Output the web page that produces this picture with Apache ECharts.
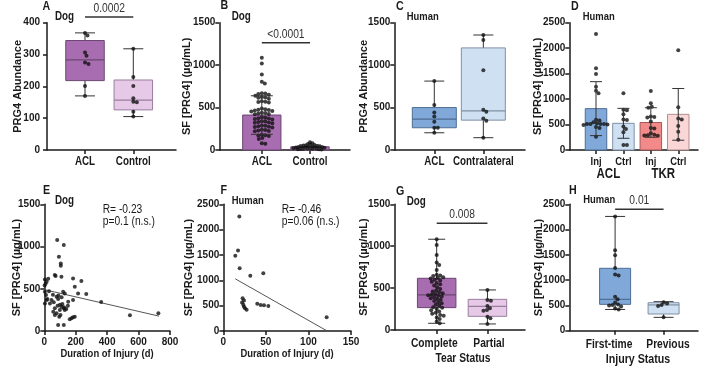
<!DOCTYPE html>
<html>
<head>
<meta charset="utf-8">
<script src="https://cdn.jsdelivr.net/npm/echarts@6/dist/echarts.min.js"></script>
<style>html,body{margin:0;background:#fff}#chart{width:702px;height:366px}</style>
</head>
<body>
<div id="chart"></div>
<script>
// ---- data ----
// A: dog PRG4 abundance
const labelsA = ["ACL", "Control"];
const aclA = [368, 360, 306, 296, 275, 270, 201, 170];
const ctrlA = [318, 229, 201, 163, 152, 150, 120, 105];
const boxA = [[170, 218, 283, 344, 368], [105, 126, 157, 220, 318]]; // min q1 med q3 max

// B: dog SF [PRG4]
const labelsB = ["ACL", "Control"];
const aclB = [1086, 1019, 890, 804, 784, 670, 665, 660, 650, 640, 625, 620, 615, 605, 575, 570, 565, 560,
    490, 480, 475, 470, 465, 460, 455, 440, 435, 430, 425, 420, 385, 380, 375, 370, 365, 360, 340, 335, 330,
    325, 320, 315, 290, 285, 280, 275, 270, 265, 240, 235, 230, 225, 220, 180, 175, 170, 165, 140, 130, 80, 75];
const ctrlB = [92, 80, 72, 65, 60, 56, 52, 48, 45, 42, 40, 38, 36, 34, 32, 30, 28, 26, 24, 22, 20, 18, 16, 14, 12, 10, 8, 5];
const meanB = [412, 38];
const sdB = [227, 22];

// C: human PRG4 abundance
const labelsC = ["ACL", "Contralateral"];
const aclC = [812, 531, 441, 394, 332, 262, 262, 203];
const contraC = [1355, 1295, 940, 475, 450, 370, 345, 145];
const boxC = [[203, 262, 363, 500, 812], [145, 352, 461, 1203, 1355]];

// D: human SF [PRG4], ACL vs TKR
const labelsD = ["Inj", "Ctrl", "Inj", "Ctrl"];
const groupsD = ["ACL", "TKR"];
const aclInjD = [2278, 1604, 1493, 1244, 1165, 1113, 595, 580, 545, 525, 510, 510, 510, 510, 500, 490, 450, 430, 262];
const aclCtrlD = [1113, 790, 780, 700, 600, 590, 460, 410, 350, 100, 100];
const tkrInjD = [1159, 917, 851, 830, 660, 650, 640, 560, 430, 420, 330, 300, 290, 285, 280];
const tkrCtrlD = [1960, 840, 620, 600, 470, 360, 200];
const meanD = [812, 524, 540, 700];
const sdD = [530, 294, 290, 508];

// E: dog, duration vs SF [PRG4]
const eDur = [82, 124, 93, 105, 105, 4, 25, 15, 67, 72, 109, 183, 236, 194, 215, 267, 362, 545, 726,
    4, 11, 15, 4, 46, 36, 78, 88, 120, 130, 109, 124, 130, 99, 67, 78, 95, 103, 88, 124, 162, 173, 183, 194, 183, 57, 67, 152,
    2, 8, 30, 55, 60, 100, 115, 140, 150, 90, 110, 20, 125, 85];
const eVal = [1076, 1017, 879, 800, 772, 611, 619, 583, 662, 650, 642, 623, 591, 524, 445, 437, 343, 185, 209,
    465, 425, 366, 327, 366, 327, 406, 378, 465, 445, 288, 268, 248, 248, 268, 209, 169, 189, 71, 71, 138, 150, 162, 169, 366, 228, 189, 347,
    540, 560, 470, 430, 340, 310, 320, 260, 300, 420, 400, 380, 280, 300];
const fitE = [[0, 490], [730, 176]];

// F: human, duration vs SF [PRG4]
const fDur = [18.8, 17.3, 14.1, 19.2, 31.7, 47, 22.7, 24.3, 22, 23.5, 24.3, 27.4, 25.5, 39.9, 43.9, 47.8, 52.9, 121.4];
const fVal = [2257, 1586, 1487, 1237, 1092, 1138, 645, 600, 560, 520, 480, 420, 450, 540, 515, 510, 493, 270];
const fitF = [[14, 1030], [121, 10]];

// G: dog, tear status
const labelsG = ["Complete", "Partial"];
const completeG = [1083, 1015, 896, 804, 776, 716, 660, 650, 645, 630, 620, 615, 600, 590, 575, 560, 545, 530, 510,
    490, 470, 460, 450, 440, 430, 420, 415, 410, 400, 390, 380, 370, 360, 345, 330, 320, 300, 290, 270, 265, 250,
    235, 220, 205, 195, 180, 170, 150, 130, 100, 80];
const partialG = [478, 358, 350, 287, 259, 239, 230, 159, 139, 72];
const boxG = [[80, 267, 418, 617, 1083], [72, 163, 283, 366, 478]];

// H: human, injury status
const labelsH = ["First-time", "Previous"];
const firstH = [2260, 1590, 1490, 1240, 1110, 1090, 670, 620, 560, 520, 510, 500, 480, 440, 420];
const prevH = [565, 540, 510, 490, 264];
const boxH = [[420, 521, 620, 1234, 2260], [264, 330, 510, 554, 574]];

// ---- layout ----
const FONT = "'Liberation Sans', Arial, sans-serif";
const SQ = 0.82;          // the figure's lettering is horizontally condensed
const INK = "#1a1a1a";
const WHISK = "#333";
const DOT = 4;
const GAP = 3.4;

const G = [
    { left: 47, top: 22.7, width: 129, height: 127.3, xMin: 0.213, xMax: 2.884, yMax: 400, yInt: 100, gap: 24 },
    { left: 219.3, top: 22.7, width: 130.7, height: 127.3, xMin: 0.118, xMax: 2.83, yMax: 1500, yInt: 500, gap: 26.5 },
    { left: 394.3, top: 22.7, width: 130.7, height: 127.3, xMin: 0.184, xMax: 2.85, yMax: 1500, yInt: 500, gap: 25 },
    { left: 569.3, top: 22.7, width: 128.7, height: 127.3, xMin: 0.026, xMax: 4.72, yMax: 2500, yInt: 500, gap: 25.5 },
    { left: 44.3, top: 204.3, width: 125.7, height: 126.7, xMin: 0, xMax: 800, yMax: 1500, yInt: 500, gap: 21.5 },
    { left: 223.3, top: 204.3, width: 127.7, height: 126.7, xMin: 0, xMax: 150, yMax: 2500, yInt: 500, gap: 28.5 },
    { left: 394.3, top: 204.3, width: 130.7, height: 125.7, xMin: 0.165, xMax: 2.74, yMax: 1500, yInt: 500, gap: 25 },
    { left: 569.3, top: 204.3, width: 128.7, height: 126.4, xMin: 0.055, xMax: 2.71, yMax: 2500, yInt: 500, gap: 25 }
];

const PURPLE = ["#a86cb0", "#e6c9e7"];
const PURPLE_LINE = ["#6c4672", "#9a7d9e"];
const BLUE = ["#80a9d9", "#cfe0f3"];
const BLUE_LINE = ["#4d6d92", "#7f90a6"];
const D_FILL = ["#80a9d9", "#cfe0f3", "#f28a8a", "#fbd6d6"];
const D_LINE = ["#4d6d92", "#7f90a6", "#a65757", "#b38f8f"];

// beeswarm placement of dots around a category centre (pixel space)
function swarm(values, center, g, gap) {
    const minDist = gap || GAP;
    const pxY = g.height / g.yMax;
    const unitX = (g.xMax - g.xMin) / g.width;
    const placed = [];
    return values.slice().sort((a, b) => b - a).map(v => {
        const y = v * pxY;
        let off = 0;
        for (let k = 0; k < 160; k++) {
            const cand = k === 0 ? 0 : (k % 2 ? 1 : -1) * Math.ceil(k / 2) * 0.5;
            if (placed.every(p => Math.hypot(p[0] - cand, p[1] - y) >= minDist)) { off = cand; break; }
        }
        placed.push([off, y]);
        return [center + off * unitX, v];
    });
}

function line(x1, y1, x2, y2, w, c) {
    return { type: "line", shape: { x1, y1, x2, y2 }, style: { stroke: c, lineWidth: w } };
}

function boxSeries(gi, boxes, boxW, capW, fills, strokes) {
    return {
        type: "custom", xAxisIndex: gi, yAxisIndex: gi, z: 2,
        data: boxes.map((b, i) => [i + 1].concat(b)),
        renderItem: (params, api) => {
            const x = api.value(0);
            const p = [1, 2, 3, 4, 5].map(k => api.coord([x, api.value(k)]));
            const cx = p[0][0], i = params.dataIndex;
            return {
                type: "group", children: [
                    line(cx, p[4][1], cx, p[0][1], 1, WHISK),
                    line(cx - capW / 2, p[4][1], cx + capW / 2, p[4][1], 1, WHISK),
                    line(cx - capW / 2, p[0][1], cx + capW / 2, p[0][1], 1, WHISK),
                    { type: "rect", shape: { x: cx - boxW / 2, y: p[3][1], width: boxW, height: p[1][1] - p[3][1] },
                      style: { fill: fills[i], stroke: strokes[i], lineWidth: 1 } },
                    line(cx - boxW / 2, p[2][1], cx + boxW / 2, p[2][1], 1.2, strokes[i])
                ]
            };
        }
    };
}

function barSeries(gi, means, barW, fills, strokes) {
    return {
        type: "custom", xAxisIndex: gi, yAxisIndex: gi, z: 2,
        data: means.map((m, i) => [i + 1, m]),
        renderItem: (params, api) => {
            const a = api.coord([api.value(0), 0]);
            const b = api.coord([api.value(0), api.value(1)]);
            const i = params.dataIndex;
            return { type: "rect", shape: { x: a[0] - barW / 2, y: b[1], width: barW, height: a[1] - b[1] },
                     style: { fill: fills[i], stroke: strokes[i], lineWidth: 1 } };
        }
    };
}

function errSeries(gi, means, sds, capW) {
    return {
        type: "custom", xAxisIndex: gi, yAxisIndex: gi, z: 4,
        data: means.map((m, i) => [i + 1, m - sds[i], m + sds[i]]),
        renderItem: (params, api) => {
            const lo = api.coord([api.value(0), api.value(1)]);
            const hi = api.coord([api.value(0), api.value(2)]);
            return {
                type: "group", children: [
                    line(lo[0], lo[1], hi[0], hi[1], 1, WHISK),
                    line(lo[0] - capW / 2, lo[1], lo[0] + capW / 2, lo[1], 1, WHISK),
                    line(hi[0] - capW / 2, hi[1], hi[0] + capW / 2, hi[1], 1, WHISK)
                ]
            };
        }
    };
}

function sigSeries(gi, y, text) {
    return {
        type: "custom", xAxisIndex: gi, yAxisIndex: gi, z: 5,
        data: [[1, 2, y]],
        renderItem: (params, api) => {
            const a = api.coord([api.value(0), api.value(2)]);
            const b = api.coord([api.value(1), api.value(2)]);
            return {
                type: "group", children: [
                    line(a[0], a[1], b[0], b[1], 1.5, "#333"),
                    { type: "text", x: (a[0] + b[0]) / 2, y: a[1] - 8.5, scaleX: SQ,
                      style: { text, align: "center", verticalAlign: "middle", fontSize: 12.5, fontFamily: FONT, fill: "#333" } }
                ]
            };
        }
    };
}

// category names under the ticks, condensed like the figure
function labelSeries(gi, names, positions, fs, margin) {
    return {
        type: "custom", xAxisIndex: gi, yAxisIndex: gi, z: 5, silent: true,
        data: positions.map(p => [p, 0]),
        renderItem: (params, api) => {
            const c = api.coord([api.value(0), api.value(1)]);
            return { type: "text", x: c[0], y: c[1] + margin, scaleX: SQ,
                     style: { text: names[params.dataIndex], align: "center", verticalAlign: "top",
                              fontSize: fs, fontWeight: "bold", fontFamily: FONT, fill: INK } };
        }
    };
}

function dots(gi, data) {
    return { type: "scatter", xAxisIndex: gi, yAxisIndex: gi, z: 3, symbolSize: DOT,
             itemStyle: { color: "#111" }, data, clip: false };
}

function fitSeries(gi, data) {
    return { type: "line", xAxisIndex: gi, yAxisIndex: gi, z: 3, data, showSymbol: false,
             lineStyle: { color: "#555", width: 1 } };
}

const axisLine = { show: true, onZero: false, lineStyle: { color: INK, width: 1.5 } };
const tick = { show: true, length: 4, lineStyle: { color: INK, width: 1.5 } };
const numLabel = { fontFamily: FONT, fontWeight: "bold", fontSize: 10, color: INK, formatter: v => String(v) };

function yAxisOf(gi, name) {
    const g = G[gi];
    return {
        gridIndex: gi, type: "value", min: 0, max: g.yMax, interval: g.yInt,
        name, nameLocation: "middle", nameGap: g.gap, nameRotate: 90, nameMoveOverlap: false,
        nameTextStyle: { fontFamily: FONT, fontWeight: "bold", fontSize: 11, color: INK },
        axisLine, axisTick: tick, splitLine: { show: false },
        axisLabel: Object.assign({ margin: gi === 0 ? 7 : 4 }, numLabel)
    };
}

function catAxis(gi, n) {
    const g = G[gi];
    const pos = [];
    for (let i = 1; i <= n; i++) pos.push(i);
    return {
        gridIndex: gi, type: "value", position: "bottom", min: g.xMin, max: g.xMax,
        axisLine, splitLine: { show: false },
        axisTick: Object.assign({ customValues: pos }, tick),
        axisLabel: { show: false }
    };
}

function numAxis(gi, interval) {
    const g = G[gi];
    return {
        gridIndex: gi, type: "value", position: "bottom", min: g.xMin, max: g.xMax, interval,
        axisLine, axisTick: tick, splitLine: { show: false },
        axisLabel: Object.assign({ margin: 6 }, numLabel)
    };
}

function txt(x, y, text, fs, bold, align) {
    return { type: "text", x, y, z: 10, scaleX: SQ,
             style: { text, fontSize: fs, fontWeight: bold ? "bold" : "normal", fontFamily: FONT,
                      fill: INK, verticalAlign: "middle", align: align || "left" } };
}

const SF = "SF [PRG4] (µg/mL)";

const option = {
    animation: false,
    backgroundColor: "#fff",
    grid: G.map(g => ({ left: g.left, top: g.top, width: g.width, height: g.height, outerBoundsMode: "none" })),
    xAxis: [
        catAxis(0, 2), catAxis(1, 2), catAxis(2, 2), catAxis(3, 4),
        numAxis(4, 200), numAxis(5, 50),
        catAxis(6, 2), catAxis(7, 2)
    ],
    yAxis: [
        yAxisOf(0, "PRG4 Abundance"),
        yAxisOf(1, SF),
        yAxisOf(2, "PRG4 Abundance"),
        yAxisOf(3, SF),
        yAxisOf(4, SF),
        yAxisOf(5, SF),
        yAxisOf(6, SF),
        yAxisOf(7, SF)
    ],
    series: [
        // A
        boxSeries(0, boxA, 38.5, 20, PURPLE, PURPLE_LINE),
        dots(0, swarm(aclA, 1, G[0]).concat(swarm(ctrlA, 2, G[0]))),
        sigSeries(0, 418, "0.0002"),
        labelSeries(0, labelsA, [1, 2], 12, 6),
        // B
        barSeries(1, meanB, 38.3, [PURPLE[0], PURPLE[0]], [PURPLE_LINE[0], PURPLE_LINE[0]]),
        dots(1, swarm(aclB, 1, G[1]).concat(swarm(ctrlB, 2, G[1], 2.3))),
        errSeries(1, meanB, sdB, 22),
        sigSeries(1, 1264, "<0.0001"),
        labelSeries(1, labelsB, [1, 2], 12, 6),
        // C
        boxSeries(2, boxC, 44, 20, BLUE, BLUE_LINE),
        dots(2, swarm(aclC, 1, G[2]).concat(swarm(contraC, 2, G[2]))),
        labelSeries(2, labelsC, [1, 2], 12, 6),
        // D
        barSeries(3, meanD, 21.5, D_FILL, D_LINE),
        dots(3, swarm(aclInjD, 1, G[3]).concat(swarm(aclCtrlD, 2, G[3]),
            swarm(tkrInjD, 3, G[3]), swarm(tkrCtrlD, 4, G[3]))),
        errSeries(3, meanD, sdD, 12),
        labelSeries(3, labelsD, [1, 2, 3, 4], 11.5, 6),
        labelSeries(3, groupsD, [1.45, 3.45], 14, 17),
        // E
        dots(4, eDur.map((d, i) => [d, eVal[i]])),
        fitSeries(4, fitE),
        // F
        dots(5, fDur.map((d, i) => [d, fVal[i]])),
        fitSeries(5, fitF),
        // G
        boxSeries(6, boxG, 38.5, 17, PURPLE, PURPLE_LINE),
        dots(6, swarm(completeG, 1, G[6]).concat(swarm(partialG, 2, G[6]))),
        sigSeries(6, 1273, "0.008"),
        labelSeries(6, labelsG, [0.953, 2.03], 12.5, 7),
        // H
        boxSeries(7, boxH, 31, 20, BLUE, BLUE_LINE),
        dots(7, swarm(firstH, 1, G[7]).concat(swarm(prevH, 2, G[7]))),
        sigSeries(7, 2401, "0.01"),
        labelSeries(7, labelsH, [0.874, 2.09], 12.5, 7)
    ],
    graphic: [
        txt(42.5, 6, "A", 13, true), txt(220.5, 5.5, "B", 13, true),
        txt(396, 6, "C", 13, true), txt(571, 6, "D", 13, true),
        txt(43, 190.5, "E", 13, true), txt(220.5, 190.5, "F", 13, true),
        txt(396, 191, "G", 13, true), txt(569, 190, "H", 13, true),
        txt(55, 17, "Dog", 12, true), txt(231.7, 17, "Dog", 12, true),
        txt(406.7, 17, "Human", 11.5, true), txt(582.7, 17, "Human", 11.5, true),
        txt(55, 201, "Dog", 12, true), txt(231.7, 201, "Human", 11.5, true),
        txt(406.7, 202, "Dog", 12, true), txt(583.3, 199.5, "Human", 11.5, true),
        txt(102.7, 209.7, "R= -0.23", 12.5, false), txt(102.7, 222, "p=0.1 (n.s.)", 12.5, false),
        txt(281.7, 209.7, "R= -0.46", 12.5, false), txt(281.7, 222, "p=0.06 (n.s.)", 12.5, false),
        txt(107, 353.5, "Duration of Injury (d)", 11.5, true, "center"),
        txt(287, 353.5, "Duration of Injury (d)", 11.5, true, "center"),
        txt(463, 359, "Tear Status", 12.5, true, "center"),
        txt(638, 359, "Injury Status", 13, true, "center")
    ]
};

const chart = echarts.init(document.getElementById("chart"));
chart.setOption(option);
</script>
</body>
</html>
